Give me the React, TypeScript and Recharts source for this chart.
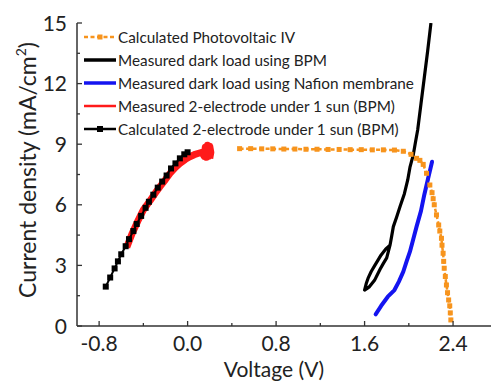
import { Line, LineChart, XAxis, YAxis } from 'recharts'

const FONT = 'Lato, "Open Sans", sans-serif'
const AXIS_COLOR = '#333333'

const X_TICKS = [-0.8, -0.4, 0, 0.4, 0.8, 1.2, 1.6, 2.0, 2.4]
const X_LABELS = ['-0.8', '', '0.0', '', '0.8', '', '1.6', '', '2.4']
const Y_TICKS = [0, 1.5, 3, 4.5, 6, 7.5, 9, 10.5, 12, 13.5, 15]
const Y_LABELS = ['0', '', '3', '', '6', '', '9', '', '12', '', '15']

// calculated photovoltaic IV
const PV_V = [0.47, 0.57, 0.67, 0.77, 0.87, 0.97, 1.07, 1.17, 1.27, 1.37, 1.47, 1.57, 1.67, 1.77, 1.87, 1.95, 2.02, 2.07, 2.1, 2.13, 2.16, 2.19, 2.21, 2.22, 2.23, 2.25, 2.27, 2.28, 2.295, 2.3, 2.31, 2.315, 2.32, 2.33, 2.34, 2.35, 2.36, 2.37, 2.375, 2.38]
const PV_J = [8.78, 8.78, 8.77, 8.77, 8.76, 8.76, 8.75, 8.75, 8.74, 8.74, 8.73, 8.73, 8.72, 8.72, 8.71, 8.65, 8.5, 8.3, 8.2, 8.0, 7.56, 6.98, 6.6, 6.3, 6.0, 5.5, 5.0, 4.7, 4.34, 4.0, 3.6, 3.2, 2.86, 2.45, 2.03, 1.65, 1.29, 1.0, 0.65, 0.3]

// measured dark load, BPM (sweep with a small loop at the bottom)
const DARK_V = [2.2, 2.17, 2.14, 2.11, 2.08, 2.06, 2.04, 2.01, 1.99, 1.96, 1.92, 1.89, 1.86, 1.845, 1.83, 1.79, 1.75, 1.72, 1.69, 1.66, 1.635, 1.615, 1.6, 1.62, 1.645, 1.69, 1.74, 1.77, 1.8, 1.83]
const DARK_J = [15.0, 13.6, 12.3, 11.0, 9.7, 9.1, 8.47, 7.85, 7.23, 6.55, 5.9, 5.4, 4.92, 4.45, 4.0, 3.8, 3.52, 3.25, 2.98, 2.7, 2.41, 2.1, 1.78, 1.85, 1.95, 2.26, 2.81, 3.1, 3.37, 4.0]

// measured dark load, Nafion
const NAF_V = [1.7, 1.75, 1.81, 1.87, 1.91, 1.95, 1.98, 2.01, 2.04, 2.07, 2.11, 2.14, 2.17, 2.21]
const NAF_J = [0.58, 1.0, 1.45, 1.78, 2.2, 2.69, 3.2, 3.68, 4.3, 4.92, 5.7, 6.5, 7.2, 8.13]

// measured 2-electrode under 1 sun
const RED_V = [-0.55, -0.5, -0.45, -0.4, -0.34, -0.29, -0.25, -0.2, -0.16, -0.11, -0.07, -0.02, 0.02, 0.06, 0.1, 0.13, 0.15, 0.16, 0.17, 0.18, 0.19, 0.2, 0.21, 0.2]
const RED_J = [3.9, 4.6, 5.2, 5.75, 6.2, 6.6, 6.9, 7.25, 7.55, 7.85, 8.05, 8.25, 8.38, 8.48, 8.55, 8.6, 8.4, 8.85, 8.35, 8.95, 8.4, 8.9, 8.6, 8.3]

// calculated 2-electrode under 1 sun
const CALC_V = [-0.74, -0.7, -0.66, -0.63, -0.6, -0.56, -0.53, -0.49, -0.46, -0.42, -0.38, -0.35, -0.31, -0.27, -0.23, -0.19, -0.15, -0.11, -0.07, -0.03, 0.0]
const CALC_J = [1.95, 2.4, 2.85, 3.2, 3.55, 3.95, 4.3, 4.7, 5.05, 5.45, 5.85, 6.15, 6.5, 6.85, 7.15, 7.45, 7.8, 8.05, 8.3, 8.5, 8.6]

const LEGEND = [
  { name: 'Calculated Photovoltaic IV', color: '#f7941d', width: 2.5, dash: '4 2.5', marker: 5 },
  { name: 'Measured dark load using BPM', color: '#000000', width: 3.5, dash: undefined, marker: 0 },
  { name: 'Measured dark load using Nafion membrane', color: '#1414f0', width: 3.5, dash: undefined, marker: 0 },
  { name: 'Measured 2-electrode under 1 sun (BPM)', color: '#ff1a1a', width: 2.5, dash: undefined, marker: 0 },
  { name: 'Calculated 2-electrode under 1 sun (BPM)', color: '#000000', width: 2.5, dash: undefined, marker: 6 },
]

const toPoints = (xs: number[], ys: number[]) => xs.map((x, i) => ({ x, y: ys[i] }))

const squareDot = (color: string, size: number) => (props: any) => (
  <rect
    key={`sq-${props.index}`}
    x={props.cx - size / 2}
    y={props.cy - size / 2}
    width={size}
    height={size}
    fill={color}
  />
)

function BottomTick(props: any) {
  const { x, y, index } = props
  const label = X_LABELS[index]
  return (
    <g>
      <line x1={x} x2={x} y1={y} y2={y - (label ? 5 : 3)} stroke={AXIS_COLOR} strokeWidth={1.3} />
      {label ? (
        <text x={x} y={y + 25} textAnchor="middle" fontSize={21} fontFamily={FONT} fill="#222">
          {label}
        </text>
      ) : null}
    </g>
  )
}

function TopTick(props: any) {
  const { x, y, index } = props
  return <line x1={x} x2={x} y1={y} y2={y + (X_LABELS[index] ? 5 : 3)} stroke={AXIS_COLOR} strokeWidth={1.3} />
}

function LeftTick(props: any) {
  const { x, y, index } = props
  const label = Y_LABELS[index]
  return (
    <g>
      <line x1={x} x2={x + (label ? 5 : 3)} y1={y} y2={y} stroke={AXIS_COLOR} strokeWidth={1.3} />
      {label ? (
        <text x={x - 10} y={y} dy="0.36em" textAnchor="end" fontSize={21} fontFamily={FONT} fill="#222">
          {label}
        </text>
      ) : null}
    </g>
  )
}

function RightTick(props: any) {
  const { x, y, index } = props
  return <line x1={x} x2={x - (Y_LABELS[index] ? 5 : 3)} y1={y} y2={y} stroke={AXIS_COLOR} strokeWidth={1.3} />
}

function XTitle() {
  return (
    <text x={274} y={377} textAnchor="middle" fontSize={21} fontFamily={FONT} fill="#222">
      Voltage (V)
    </text>
  )
}

function YTitle() {
  return (
    <text
      x={28}
      y={170}
      transform="rotate(-90, 28, 170)"
      textAnchor="middle"
      dy="0.36em"
      fontSize={23}
      fontFamily={FONT}
      fill="#222"
    >
      Current density (mA/cm
      <tspan dy={-10} fontSize={14}>2</tspan>
      <tspan dy={10}>)</tspan>
    </text>
  )
}

function LegendBox() {
  const rowTops = [37, 60, 82.5, 106, 128.5]
  return (
    <div style={{ position: 'absolute', left: 0, top: 0, pointerEvents: 'none' }}>
      {LEGEND.map((item, i) => (
        <div
          key={item.name}
          style={{
            position: 'absolute',
            left: 83,
            top: rowTops[i] - 11,
            height: 22,
            display: 'flex',
            alignItems: 'center',
            whiteSpace: 'nowrap',
            fontFamily: FONT,
            fontSize: 15.3,
            color: '#222',
          }}
        >
          <svg width={34} height={12} style={{ display: 'block' }}>
            <line
              x1={1}
              x2={33}
              y1={6}
              y2={6}
              stroke={item.color}
              strokeWidth={item.width}
              strokeDasharray={item.dash}
            />
            {item.marker ? (
              <rect x={17 - item.marker / 2} y={6 - item.marker / 2} width={item.marker} height={item.marker} fill={item.color} />
            ) : null}
          </svg>
          <span style={{ marginLeft: 1 }}>{item.name}</span>
        </div>
      ))}
    </div>
  )
}

export default function App() {
  return (
    <div style={{ position: 'absolute', left: 0, top: 0, width: 491, height: 382, overflow: 'hidden', background: '#fff' }}>
      <LineChart width={492} height={382} margin={{ top: 23, right: 0, bottom: 0, left: 0 }}>
        <XAxis
          xAxisId="bottom"
          dataKey="x"
          type="number"
          domain={[-1.0, 2.752]}
          ticks={X_TICKS}
          interval={0}
          height={56}
          tickSize={0}
          tickMargin={0}
          tickLine={false}
          axisLine={{ stroke: AXIS_COLOR, strokeWidth: 1.5 }}
          tick={<BottomTick />}
          label={<XTitle />}
          allowDataOverflow
        />
        <XAxis
          xAxisId="top"
          orientation="top"
          dataKey="x"
          type="number"
          domain={[-1.0, 2.752]}
          ticks={X_TICKS}
          interval={0}
          height={0}
          tickSize={0}
          tickMargin={0}
          tickLine={false}
          axisLine={{ stroke: AXIS_COLOR, strokeWidth: 1.5 }}
          tick={<TopTick />}
          allowDataOverflow
        />
        <YAxis
          yAxisId="left"
          type="number"
          domain={[0, 15]}
          ticks={Y_TICKS}
          interval={0}
          width={77}
          tickSize={0}
          tickMargin={0}
          tickLine={false}
          axisLine={{ stroke: AXIS_COLOR, strokeWidth: 1.5 }}
          tick={<LeftTick />}
          label={<YTitle />}
          allowDataOverflow
        />
        <YAxis
          yAxisId="right"
          orientation="right"
          type="number"
          domain={[0, 15]}
          ticks={Y_TICKS}
          interval={0}
          width={0}
          tickSize={0}
          tickMargin={0}
          tickLine={false}
          axisLine={{ stroke: AXIS_COLOR, strokeWidth: 1.5 }}
          tick={<RightTick />}
          allowDataOverflow
        />
        <Line
          xAxisId="bottom"
          yAxisId="left"
          data={toPoints(PV_V, PV_J)}
          dataKey="y"
          type="linear"
          stroke="#f7941d"
          strokeWidth={2.5}
          strokeDasharray="4 2.5"
          dot={squareDot('#f7941d', 5)}
          isAnimationActive={false}
        />
        <Line
          xAxisId="bottom"
          yAxisId="left"
          data={toPoints(NAF_V, NAF_J)}
          dataKey="y"
          type="linear"
          stroke="#1414f0"
          strokeWidth={4}
          strokeLinejoin="round"
          strokeLinecap="round"
          dot={false}
          isAnimationActive={false}
        />
        <Line
          xAxisId="bottom"
          yAxisId="left"
          data={toPoints(DARK_V, DARK_J)}
          dataKey="y"
          type="linear"
          stroke="#000000"
          strokeWidth={3.2}
          strokeLinejoin="round"
          dot={false}
          isAnimationActive={false}
        />
        <Line
          xAxisId="bottom"
          yAxisId="left"
          data={toPoints(RED_V, RED_J)}
          dataKey="y"
          type="linear"
          stroke="#ff1a1a"
          strokeWidth={7}
          strokeLinejoin="round"
          dot={false}
          isAnimationActive={false}
        />
        <Line
          xAxisId="bottom"
          yAxisId="left"
          data={toPoints(CALC_V, CALC_J)}
          dataKey="y"
          type="linear"
          stroke="#000000"
          strokeWidth={2}
          dot={squareDot('#000000', 6)}
          isAnimationActive={false}
        />
      </LineChart>
      <LegendBox />
    </div>
  )
}
